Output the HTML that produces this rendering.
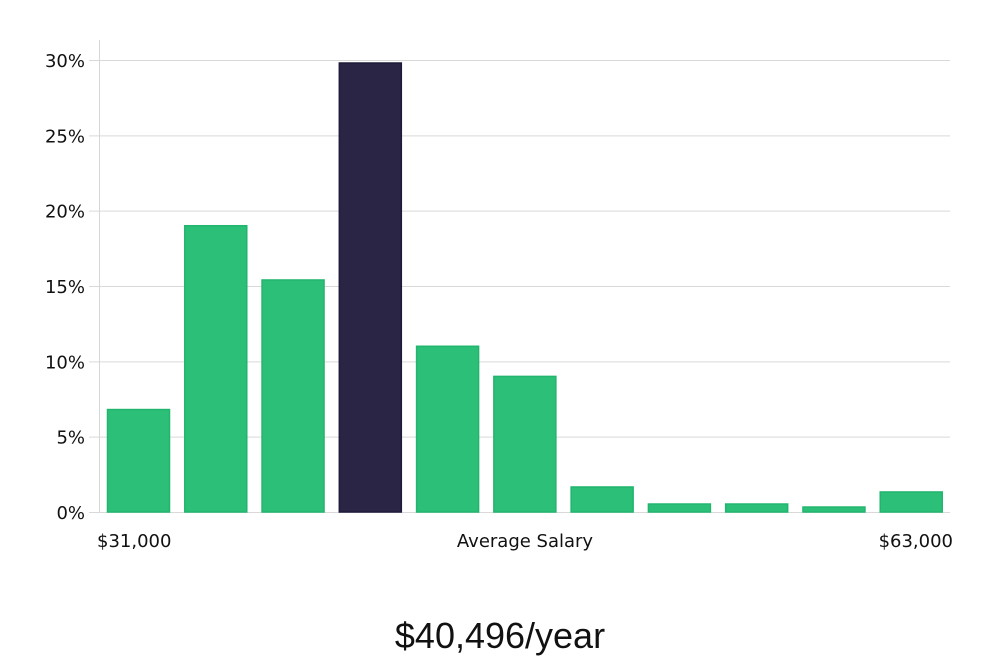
<!DOCTYPE html>
<html><head><meta charset="utf-8"><style>
body{margin:0;background:#fff;width:1000px;height:660px;overflow:hidden}
text{font-family:"DejaVu Sans","Liberation Sans",sans-serif;fill:#111}
</style></head><body>
<svg id="chart" width="1000" height="660" xmlns="http://www.w3.org/2000/svg">
<g id="grid"></g>
<g id="yaxis"></g>
<g id="bars"></g>
<text x="97" y="547" font-size="18">$31,000</text>
<text x="525" y="547" font-size="18" text-anchor="middle">Average Salary</text>
<text x="953" y="547" font-size="18" text-anchor="end">$63,000</text>
<text x="500" y="648" font-size="36" text-anchor="middle" style="font-family:'Liberation Sans',sans-serif;font-weight:300">$40,496/year</text>
</svg>
<script>
const categories=["b1","b2","b3","b4","b5","b6","b7","b8","b9","b10","b11"];
const values=[6.8,19.0,15.4,29.8,11.0,9.0,1.66,0.53,0.53,0.33,1.33];
const highlightIndex=3;
const yTicks=[0,5,10,15,20,25,30];
const yTickLabels=["0%","5%","10%","15%","20%","25%","30%"];
const NS="http://www.w3.org/2000/svg";
const x0=100,x1=950,y0=512,yTop=60,yMax=30;
const y=v=>y0-(v/yMax)*(y0-yTop);
const slot=(x1-x0)/categories.length;
const xs=i=>x0+i*slot;
function mk(t,a,p){const e=document.createElementNS(NS,t);for(const k in a)e.setAttribute(k,a[k]);p.appendChild(e);return e;}
const grid=document.getElementById('grid'),ya=document.getElementById('yaxis'),bars=document.getElementById('bars');
const ax=mk('line',{x1:99.5,x2:99.5,y1:40,y2:y0,stroke:'#d6d6d6','stroke-width':1},ya);


yTicks.forEach((t,i)=>{
  const g=mk('line',{x1:89,x2:x1,y1:y(t)+.5,y2:y(t)+.5,stroke:'#d9d9d9','stroke-width':1},grid);
  
  
  const l=mk('text',{x:85,y:y(t)+7,'font-size':18,'text-anchor':'end'},ya);
  l.textContent=yTickLabels[i];
  
  
});
values.forEach((v,i)=>{
  const hi=i===highlightIndex;
  const r=mk('rect',{x:xs(i)+7.5,y:y(v),width:62,height:y0-y(v),fill:hi?'#2a2545':'#2bbf78',stroke:hi?'#1e1a3a':'#22b56e','stroke-width':1.5},bars);
  
  
});
</script>
</body></html>
